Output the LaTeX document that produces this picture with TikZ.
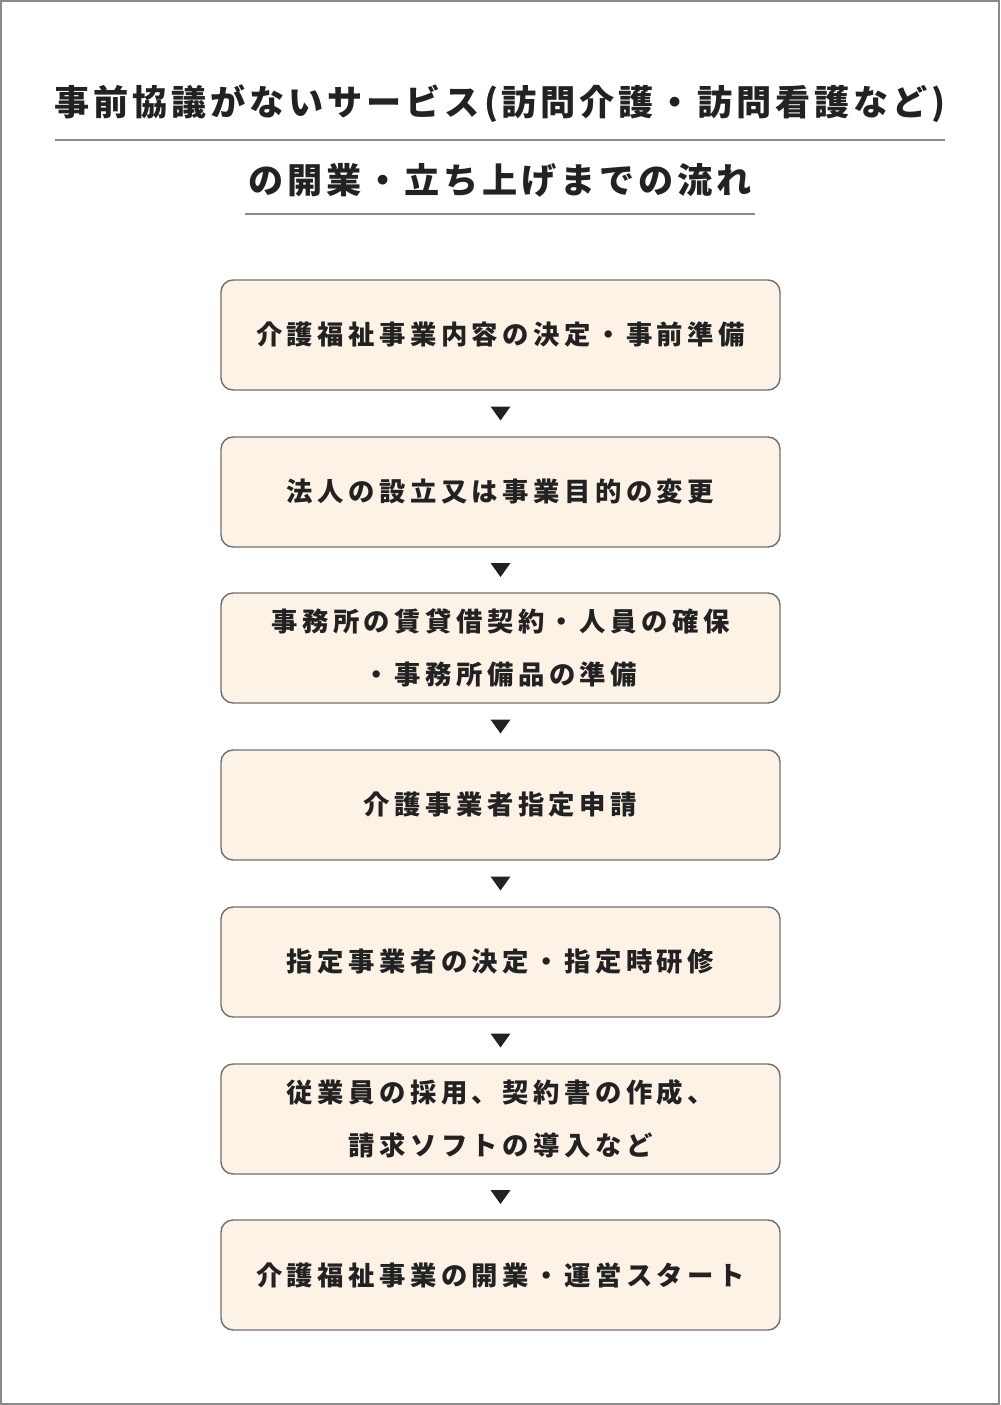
\documentclass[tikz,border=0pt]{standalone}
\usepackage{fontspec}
\setmainfont{Noto Sans CJK JP}
\newfontfamily\titlefont{Noto Sans CJK JP}[LetterSpace=11]
\newfontfamily\boxfont{Noto Sans CJK JP}[LetterSpace=17]
\usetikzlibrary{calc}

\definecolor{boxfill}{HTML}{FDF2E6}
\definecolor{boxline}{HTML}{707070}
\definecolor{ink}{HTML}{222222}
\definecolor{rule}{HTML}{8A8A8A}

\tikzset{
    stepbox/.style={draw=boxline, fill=boxfill, line width=0.8pt, rounded corners=2.4mm,
        minimum width=111.8mm, minimum height=22mm, align=center, text=ink,
        font=\boxfont\bfseries\fontsize{15}{30}\selectfont},
    titletext/.style={inner sep=0pt, text=ink, font=\titlefont\bfseries\fontsize{20}{24}\selectfont},
    mark/.style={fill=ink}
}

\begin{document}
\begin{tikzpicture}[x=0.2mm, y=-0.2mm]
    \useasboundingbox (0,0) rectangle (1000,1405);
    \draw[rule, line width=1pt] (1,1) rectangle (999,1404);

    \node[titletext] (t1) at (500,104) {事前協議がないサービス(訪問介護・訪問看護など)};
    \node[titletext] (t2) at (500,180) {の開業・立ち上げまでの流れ};
    \draw[rule, line width=0.8pt] (55,140) -- (945,140);
    \draw[rule, line width=0.8pt] (245,214) -- (755,214);

    \node[stepbox] (b1) at (500.5,335) {介護福祉事業内容の決定・事前準備};
    \node[stepbox] (b2) at (500.5,492) {法人の設立又は事業目的の変更};
    \node[stepbox] (b3) at (500.5,648) {事務所の賃貸借契約・人員の確保\\・事務所備品の準備};
    \node[stepbox] (b4) at (500.5,805) {介護事業者指定申請};
    \node[stepbox] (b5) at (500.5,962) {指定事業者の決定・指定時研修};
    \node[stepbox] (b6) at (500.5,1119) {従業員の採用、契約書の作成、\\請求ソフトの導入など};
    \node[stepbox] (b7) at (500.5,1275) {介護福祉事業の開業・運営スタート};

    \fill[ink] ($(b1.south)!.5!(b2.north)$) +(-10,-7) -- +(10,-7) -- +(0,7) -- cycle;
    \fill[ink] ($(b2.south)!.5!(b3.north)$) +(-10,-7) -- +(10,-7) -- +(0,7) -- cycle;
    \fill[ink] ($(b3.south)!.5!(b4.north)$) +(-10,-7) -- +(10,-7) -- +(0,7) -- cycle;
    \fill[ink] ($(b4.south)!.5!(b5.north)$) +(-10,-7) -- +(10,-7) -- +(0,7) -- cycle;
    \fill[ink] ($(b5.south)!.5!(b6.north)$) +(-10,-7) -- +(10,-7) -- +(0,7) -- cycle;
    \fill[ink] ($(b6.south)!.5!(b7.north)$) +(-10,-7) -- +(10,-7) -- +(0,7) -- cycle;
\end{tikzpicture}
\end{document}
